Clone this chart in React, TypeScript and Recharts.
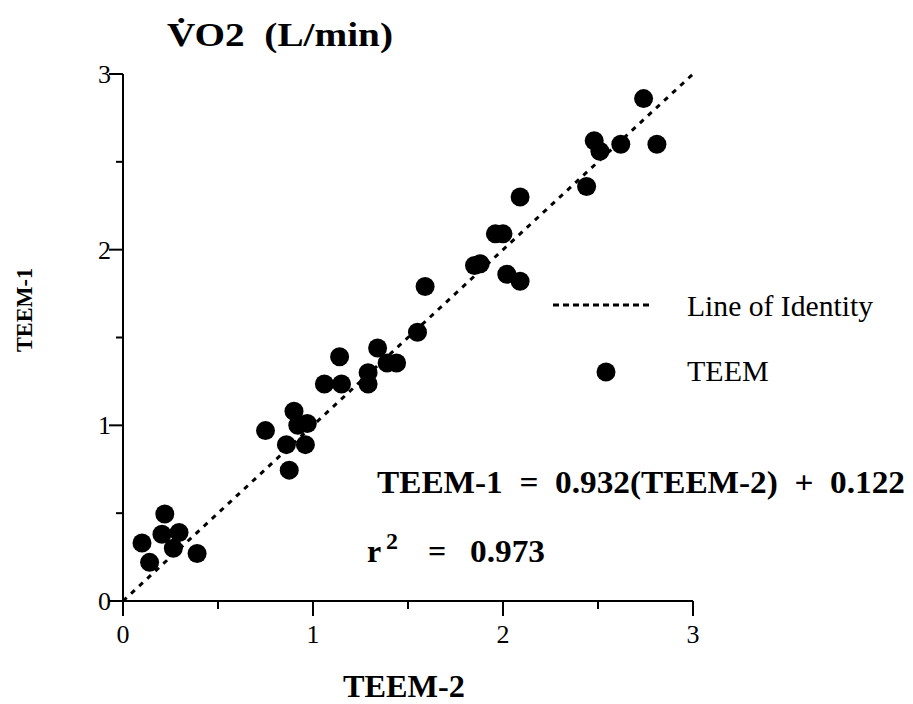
import React from 'react';
import {
  ScatterChart,
  Scatter,
  XAxis,
  YAxis,
  ReferenceLine,
} from 'recharts';

// TEEM-2 (x) vs TEEM-1 (y), VO2 in L/min
const teem2 = [
  0.1, 0.14, 0.22, 0.205, 0.295, 0.265, 0.39,
  0.75, 0.9, 0.92, 0.97, 0.86, 0.96, 0.875,
  1.06, 1.14, 1.15, 1.29, 1.29, 1.34, 1.39, 1.44, 1.55, 1.59,
  1.85, 1.88, 1.96, 2.0, 2.02, 2.09, 2.09,
  2.44, 2.48, 2.51, 2.62, 2.74, 2.81,
];
const teem1 = [
  0.33, 0.22, 0.495, 0.38, 0.39, 0.3, 0.27,
  0.97, 1.08, 1.0, 1.01, 0.89, 0.89, 0.745,
  1.235, 1.39, 1.235, 1.3, 1.235, 1.44, 1.355, 1.355, 1.53, 1.79,
  1.91, 1.92, 2.09, 2.09, 1.86, 1.82, 2.3,
  2.36, 2.62, 2.56, 2.6, 2.86, 2.6,
];
const axisTicks = [0, 0.5, 1, 1.5, 2, 2.5, 3];
const identityEnds = [0, 3];

const points = teem2.map((x, i) => ({ x, y: teem1[i] }));

const serif = 'Liberation Serif, Times New Roman, serif';
const txt = (size: number, bold = false): React.CSSProperties => ({
  fontFamily: serif,
  fontSize: size,
  fontWeight: bold ? 700 : 400,
  whiteSpace: 'pre',
});

const Dot = (props: any) => (
  <circle cx={props.cx} cy={props.cy} r={9.5} fill="#000" />
);

const YTick = (props: any) => {
  const { x, y, payload } = props;
  const major = Number.isInteger(payload.value);
  return (
    <g>
      <line x1={x} x2={x - (major ? 14 : 7)} y1={y} y2={y} stroke="#000" strokeWidth={2} />
      {major && (
        <text x={x - 12} y={y + 9} textAnchor="end" style={txt(26)} fill="#000">
          {payload.value}
        </text>
      )}
    </g>
  );
};

const XTick = (props: any) => {
  const { x, y, payload } = props;
  const major = Number.isInteger(payload.value);
  return (
    <g>
      <line x1={x} x2={x} y1={y} y2={y + (major ? 15 : 8)} stroke="#000" strokeWidth={2} />
      {major && (
        <text x={x} y={y + 42} textAnchor="middle" style={txt(26)} fill="#000">
          {payload.value}
        </text>
      )}
    </g>
  );
};

export default function App() {
  return (
    <div style={{ position: 'absolute', left: 0, top: 0, width: 913, height: 704, background: '#fff' }}>
      <ScatterChart
        width={913}
        height={704}
        margin={{ top: 74, right: 220, left: 63, bottom: 43 }}
      >
        <XAxis
          type="number"
          dataKey="x"
          domain={[0, 3]}
          ticks={axisTicks}
          interval={0}
          height={60}
          tickSize={0}
          tickMargin={0}
          tickLine={false}
          tick={<XTick />}
          axisLine={{ stroke: '#000', strokeWidth: 2 }}
          allowDataOverflow
        />
        <YAxis
          type="number"
          dataKey="y"
          domain={[0, 3]}
          ticks={axisTicks}
          interval={0}
          width={60}
          tickSize={0}
          tickMargin={0}
          tickLine={false}
          tick={<YTick />}
          axisLine={{ stroke: '#000', strokeWidth: 2 }}
          allowDataOverflow
        />
        <ReferenceLine
          segment={[
            { x: identityEnds[0], y: identityEnds[0] },
            { x: identityEnds[1], y: identityEnds[1] },
          ]}
          stroke="#000"
          strokeWidth={3}
          strokeDasharray="5 6"
          ifOverflow="visible"
        />
        <Scatter data={points} shape={<Dot />} isAnimationActive={false} />
      </ScatterChart>
      <svg
        width={913}
        height={704}
        style={{ position: 'absolute', left: 0, top: 0, pointerEvents: 'none' }}
      >
        <text x={167} y={46} style={txt(34, true)} fill="#000" textLength={226} lengthAdjust="spacingAndGlyphs">
          {'V\u0307O2  (L/min)'}
        </text>
        <g transform="translate(32, 352) rotate(-90)">
          <text x={0} y={0} style={txt(24, true)} fill="#000" textLength={84} lengthAdjust="spacingAndGlyphs">
            TEEM-1
          </text>
        </g>
        <text x={343} y={697} style={txt(32, true)} fill="#000" textLength={122} lengthAdjust="spacingAndGlyphs">
          TEEM-2
        </text>
        <line x1={553} x2={650} y1={305} y2={305} stroke="#000" strokeWidth={3} strokeDasharray="6 4" />
        <text x={687} y={316} style={txt(29)} fill="#000" textLength={186} lengthAdjust="spacingAndGlyphs">
          Line of Identity
        </text>
        <circle cx={606} cy={372} r={9.5} fill="#000" />
        <text x={687} y={381} style={txt(30)} fill="#000">
          TEEM
        </text>
        <text x={377} y={493} style={txt(32, true)} fill="#000" textLength={528} lengthAdjust="spacingAndGlyphs">
          {'TEEM-1  =  0.932(TEEM-2)  +  0.122'}
        </text>
        <text x={367} y={562} style={txt(32, true)} fill="#000">
          r
        </text>
        <text x={386} y={549} style={txt(24, true)} fill="#000">
          2
        </text>
        <text x={428} y={562} style={txt(32, true)} fill="#000">
          =
        </text>
        <text x={470} y={562} style={txt(32, true)} fill="#000" textLength={75} lengthAdjust="spacingAndGlyphs">
          0.973
        </text>
      </svg>
    </div>
  );
}
